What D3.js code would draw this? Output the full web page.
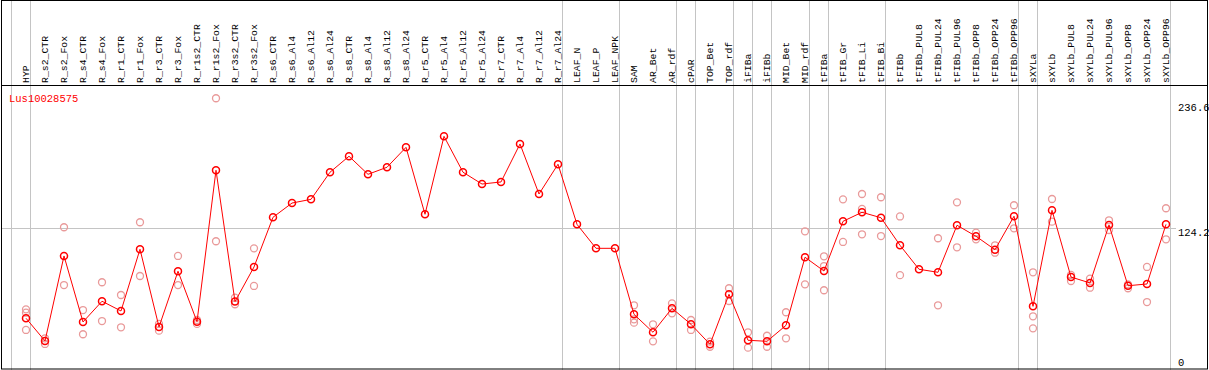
<!DOCTYPE html>
<html>
<head>
<meta charset="utf-8">
<script src="https://cdn.jsdelivr.net/npm/d3@7"></script>
<style>
  body { margin: 0; background: #fff; }
  text { font-family: "Liberation Mono", "DejaVu Sans Mono", monospace; }
</style>
</head>
<body>
<script>
const geneId = "Lus10028575";

const categories = [
  "HYP", "R_s2_CTR", "R_s2_Fox", "R_s4_CTR", "R_s4_Fox", "R_r1_CTR", "R_r1_Fox",
  "R_r3_CTR", "R_r3_Fox", "R_r1s2_CTR", "R_r1s2_Fox", "R_r3s2_CTR", "R_r3s2_Fox",
  "R_s6_CTR", "R_s6_Al4", "R_s6_Al12", "R_s6_Al24", "R_s8_CTR", "R_s8_Al4",
  "R_s8_Al12", "R_s8_Al24", "R_r5_CTR", "R_r5_Al4", "R_r5_Al12", "R_r5_Al24",
  "R_r7_CTR", "R_r7_Al4", "R_r7_Al12", "R_r7_Al24", "LEAF_N", "LEAF_P", "LEAF_NPK",
  "SAM", "AR_Bet", "AR_rdf", "cPAR", "TOP_Bet", "TOP_rdf", "iFIBa", "iFIBb",
  "MID_Bet", "MID_rdf", "tFIBa", "tFIB_Gr", "tFIB_Li", "tFIB_Bi", "tFIBb",
  "tFIBb_PUL8", "tFIBb_PUL24", "tFIBb_PUL96", "tFIBb_OPP8", "tFIBb_OPP24", "tFIBb_OPP96",
  "sXYLa", "sXYLb", "sXYLb_PUL8", "sXYLb_PUL24", "sXYLb_PUL96",
  "sXYLb_OPP8", "sXYLb_OPP24", "sXYLb_OPP96"
];

// mean expression per sample
const means = [
  46.4, 26.8, 100.2, 43.2, 61.1, 52.7, 106.0, 38.9, 87.0, 43.4, 174.2, 60.8, 90.7,
  133.6, 145.9, 149.1, 172.5, 186.3, 170.7, 176.8, 194.0, 136.2, 203.5, 172.5, 162.3,
  164.1, 196.9, 153.7, 179.4, 127.5, 106.8, 106.8,
  49.8, 34.3, 55.0, 41.2, 23.9, 67.1, 27.4, 26.5, 40.3, 99.1,
  87.2, 130.1, 137.9, 133.2, 109.4, 88.7, 86.1, 126.7, 117.2, 105.6, 134.5,
  56.7, 139.6, 82.0, 76.9, 126.9, 74.5, 76.0, 127.5
];

// individual replicates (same order as categories)
const replicates = [
  [54.1, 51.2, 36.3], [29.1, 24.2], [125.0, 75.1], [53.5, 32.6], [77.5, 44.0],
  [66.5, 38.6], [129.3, 82.9], [41.5, 35.7], [100.2, 75.1], [44.9, 41.5],
  [236.4, 112.9], [64.2, 58.5], [106.8, 74.3],
  [], [], [], [], [], [], [], [], [], [], [], [], [], [], [], [], [], [], [],
  [57.6, 45.5, 42.6], [41.2, 26.5], [59.3, 50.7], [44.9, 36.3], [26.2, 21.8],
  [72.3, 61.3], [34.3, 21.0], [31.3, 21.8], [51.6, 29.1], [121.5, 75.7],
  [99.9, 91.5, 70.6], [149.1, 112.3], [153.7, 140.8, 118.9], [150.9, 117.4],
  [134.3, 83.6], [], [115.5, 57.6], [146.5, 107.7], [120.3, 114.6], [109.4, 103.0],
  [144.0, 124.1],
  [86.1, 48.1, 37.7], [149.4, 129.8], [83.8, 78.6], [80.6, 72.8], [131.0, 122.6],
  [75.7, 72.3], [90.7, 60.4], [141.4, 114.6]
];

// sample after which a group separator is drawn (null = before the first)
const groupEnds = [
  null, "HYP", "R_r7_Al24", "LEAF_NPK", "AR_rdf", "cPAR", "TOP_rdf", "iFIBa",
  "iFIBb", "MID_rdf", "tFIBa", "tFIB_Bi", "tFIBb_OPP96", "sXYLa", "sXYLb_OPP96"
];

const yTicks = [0, 124.2, 236.6];

const width = 1209;
const height = 370;
const headerY = 85.5;

const svg = d3.select("body").append("svg")
  .attr("width", width)
  .attr("height", height);

const x = d3.scalePoint().domain(categories).range([26, 1166]);
const step = x.step();
const y = d3.scaleLinear().domain([0, 236.6]).range([372, 98]);

// group separators
svg.append("g").selectAll("line")
  .data(groupEnds)
  .join("line")
  .attr("x1", d => (d === null ? x(categories[0]) - step : x(d)) + 4.5)
  .attr("x2", d => (d === null ? x(categories[0]) - step : x(d)) + 4.5)
  .attr("y1", 0)
  .attr("y2", height)
  .attr("stroke", "#c4c4c4")
  .attr("stroke-width", 1);

// mid reference line
svg.append("line")
  .attr("x1", 1).attr("x2", 1176)
  .attr("y1", Math.round(y(yTicks[1])) + 0.5)
  .attr("y2", Math.round(y(yTicks[1])) + 0.5)
  .attr("stroke", "#c4c4c4");

// column labels
svg.append("g").selectAll("text")
  .data(categories)
  .join("text")
  .attr("transform", d => `translate(${x(d)},83) rotate(-90)`)
  .attr("dy", "0.35em")
  .attr("font-size", "9.8px")
  .attr("fill", "#000")
  .text(d => d);

// frame
svg.append("rect")
  .attr("x", 1.5).attr("y", 0.5)
  .attr("width", 1206).attr("height", 368.5)
  .attr("fill", "none")
  .attr("stroke", "#000");

svg.append("line")
  .attr("x1", 1).attr("x2", 1208)
  .attr("y1", headerY).attr("y2", headerY)
  .attr("stroke", "#000");

// title
svg.append("text")
  .attr("x", 9)
  .attr("y", 98)
  .attr("dy", "0.35em")
  .attr("font-size", "10.5px")
  .attr("fill", "#ff0000")
  .text(geneId);

// value labels on the right
const labelOffset = [-10, 4, 9.5];
svg.append("g").selectAll("text")
  .data(yTicks)
  .join("text")
  .attr("x", 1178)
  .attr("y", (d, i) => y(d) + labelOffset[i])
  .attr("dy", "0.35em")
  .attr("font-size", "10.5px")
  .attr("fill", "#000")
  .text(d => d);

// replicate points
const repPoints = [];
categories.forEach((c, i) => replicates[i].forEach(v => repPoints.push({ c, v })));

svg.append("g").selectAll("circle")
  .data(repPoints)
  .join("circle")
  .attr("cx", d => x(d.c))
  .attr("cy", d => y(d.v))
  .attr("r", 3.5)
  .attr("fill", "none")
  .attr("stroke", "#e99a9a")
  .attr("stroke-width", 1.3);

// mean line
const line = d3.line()
  .x((d, i) => x(categories[i]))
  .y(d => y(d));

svg.append("path")
  .datum(means)
  .attr("d", line)
  .attr("fill", "none")
  .attr("stroke", "#ff0000")
  .attr("stroke-width", 1);

svg.append("g").selectAll("circle")
  .data(means)
  .join("circle")
  .attr("cx", (d, i) => x(categories[i]))
  .attr("cy", d => y(d))
  .attr("r", 3.5)
  .attr("fill", "none")
  .attr("stroke", "#ff0000")
  .attr("stroke-width", 1.5);
</script>
</body>
</html>
